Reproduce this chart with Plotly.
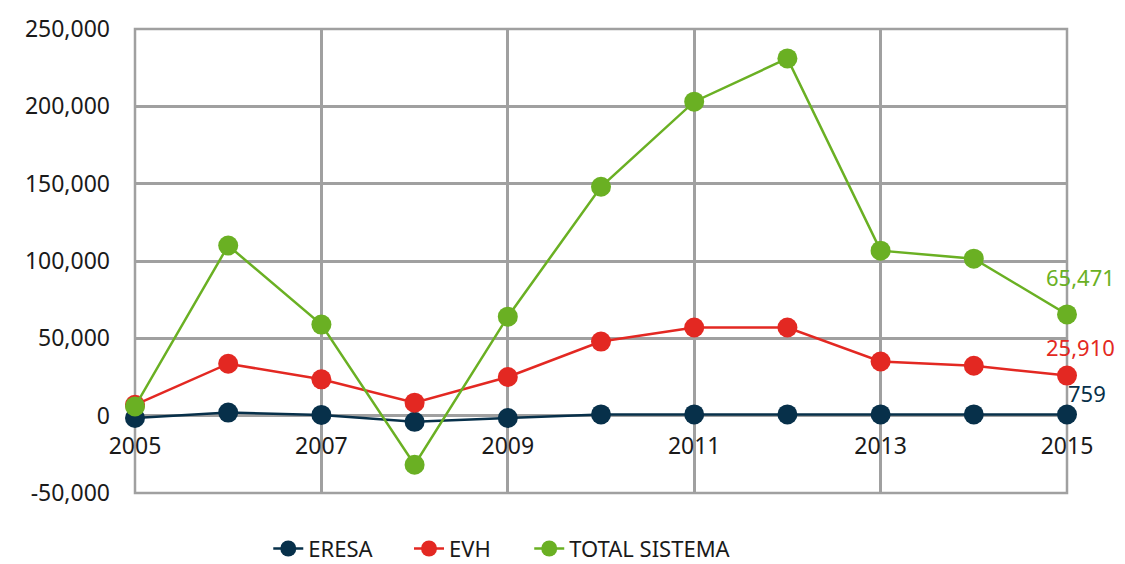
import plotly.graph_objects as go

years = [2005, 2006, 2007, 2008, 2009, 2010, 2011, 2012, 2013, 2014, 2015]
eresa = [-1500, 2000, 500, -4000, -1500, 800, 800, 800, 800, 800, 759]
evh = [7000, 33600, 23500, 8400, 25000, 47900, 57000, 57000, 35000, 32300, 25910]
total = [6000, 110000, 58900, -31700, 64000, 148000, 203000, 231000, 106700, 101500, 65471]

series_names = ["ERESA", "EVH", "TOTAL SISTEMA"]
series_values = [eresa, evh, total]
colors = ["#07304a", "#e32822", "#6ab023"]
label_shift = [(20, 21), (13, 29), (13, 37)]
legend_ids = ["legend", "legend2", "legend3"]
legend_x = [0.143, 0.294, 0.423]

x_ticks = [2005, 2007, 2009, 2011, 2013, 2015]
y_ticks = [-50000, 0, 50000, 100000, 150000, 200000, 250000]
y_ticktext = ["-50,000", "0", "50,000", "100,000", "150,000", "200,000", "250,000"]

FONT = "Noto Sans"

fig = go.Figure()
for name, vals, col, lg in zip(series_names, series_values, colors, legend_ids):
    fig.add_trace(go.Scatter(
        x=years, y=vals, name=name, mode="lines+markers",
        line=dict(color=col, width=2.5),
        marker=dict(color=col, size=20),
        cliponaxis=False, legend=lg,
    ))

for vals, col, (dx, dy) in zip(series_values, colors, label_shift):
    fig.add_annotation(
        x=years[-1], y=vals[-1], text=f"{vals[-1]:,}", showarrow=False,
        xshift=dx, yshift=dy, font=dict(family=FONT, size=22, color=col),
    )

fig.add_shape(type="rect", xref="paper", yref="paper", x0=0, x1=1, y0=0, y1=1,
              line=dict(color="#a0a0a0", width=2.5), layer="below")

legend_style = {}
for lg, lx in zip(legend_ids, legend_x):
    legend_style[lg] = dict(orientation="h", x=lx, xanchor="left", y=-0.12, yanchor="middle",
                            font=dict(family=FONT, size=22, color="#1a1a1a"),
                            bgcolor="rgba(0,0,0,0)")

fig.update_layout(
    width=1117, height=556,
    margin=dict(l=127, r=58, t=21, b=71, autoexpand=False),
    paper_bgcolor="white", plot_bgcolor="white",
    font=dict(family=FONT, size=23, color="#1a1a1a"),
    showlegend=True,
    **legend_style,
    xaxis=dict(range=[2005, 2015], tickmode="array", tickvals=x_ticks,
               ticktext=[str(v) for v in x_ticks],
               showgrid=True, gridcolor="#a0a0a0", gridwidth=2.5,
               anchor="free", position=1/6, showline=False, zeroline=False,
               ticks="", ticklabelstandoff=14, automargin=False),
    yaxis=dict(range=[-50000, 250000], tickmode="array", tickvals=y_ticks, ticktext=y_ticktext,
               showgrid=True, gridcolor="#a0a0a0", gridwidth=2.5,
               zeroline=True, zerolinecolor="#a0a0a0", zerolinewidth=2.5,
               ticks="", ticklabelstandoff=24, showline=False, automargin=False),
)

fig.write_html("out.html")
